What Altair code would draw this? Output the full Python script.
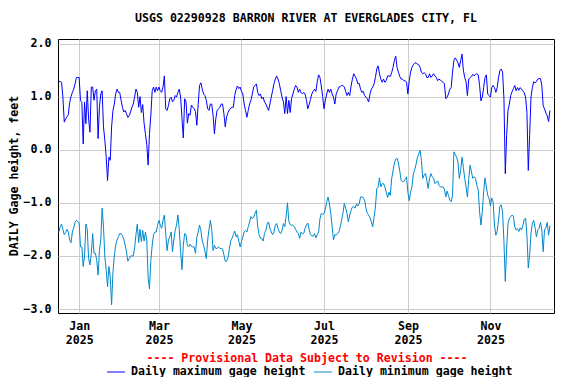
import altair as alt
import pandas as pd

# ---- data (daily values, day offsets from 2025-01-01) ----
first_day = -15
max_height = [
    1.29, 1.28, 1.27, 0.99, 0.52, 0.58, 0.62, 0.66, 0.89, 1.0, 1.08, 1.14, 1.24, 1.36, 1.36,
    1.36, 0.93, 0.89, 0.11, 0.9, 0.49, 1.11, 0.58, 0.33, 1.18, 1.18, 0.93, 1.11, 1.14, 0.21,
    0.8, 1.05, 1.11, 0.43, 0.18, -0.14, -0.58, -0.14, -0.2, 0.43, 0.74, 0.86, 1.05, 1.14, 1.08,
    1.08, 0.93, 0.8, 0.71, 0.74, 0.68, 0.61, 0.64, 0.71, 0.8, 0.86, 0.99, 1.14, 1.08, 0.8,
    1.0, 0.7, 0.85, 0.5, 0.3, 0.1, -0.29, 0.3, 0.65, 1.11, 1.18, 1.08, 1.18, 1.11, 1.18,
    1.11, 1.08, 1.18, 1.39, 0.77, 0.74, 0.83, 0.96, 0.99, 0.9, 0.93, 1.02, 0.99, 1.08, 1.14,
    0.99, 0.6, 0.22, 0.96, 0.9, 0.5, 0.68, 0.65, 0.84, 0.8, 0.77, 0.72, 0.46, 0.86, 1.21,
    1.26, 1.14, 1.05, 1.02, 0.93, 0.77, 0.74, 0.86, 0.86, 0.65, 0.3, 0.58, 0.74, 0.77, 0.8,
    0.86, 0.86, 0.68, 0.43, 0.62, 0.7, 0.75, 0.78, 0.8, 0.8, 1.02, 1.13, 1.2, 1.15, 1.18,
    1.1, 1.05, 0.86, 0.74, 0.61, 0.74, 0.86, 0.93, 1.05, 1.18, 1.21, 1.24, 1.08, 1.02, 1.05,
    0.96, 0.99, 0.9, 0.86, 0.8, 0.74, 0.86, 0.99, 1.11, 1.24, 1.33, 1.39, 1.33, 1.24, 1.11,
    0.99, 0.9, 0.68, 1.0, 0.68, 0.93, 0.7, 0.96, 1.05, 1.14, 1.21, 1.18, 1.08, 1.14, 1.08,
    1.05, 1.08, 1.05, 0.93, 0.77, 0.85, 0.95, 1.05, 1.1, 1.14, 1.1, 1.28, 1.41, 1.36, 1.2,
    1.0, 0.77, 0.93, 1.05, 1.14, 1.08, 1.14, 1.05, 0.99, 0.86, 1.05, 1.11, 1.18, 1.19, 1.21,
    1.21, 1.18, 1.1, 1.02, 1.08, 1.02, 1.2, 1.33, 1.43, 1.38, 1.33, 1.24, 1.25, 1.14, 1.08,
    1.1, 1.02, 0.99, 0.96, 0.9, 1.05, 1.14, 1.18, 1.24, 1.36, 1.52, 1.58, 1.43, 1.33, 1.27,
    1.33, 1.27, 1.3, 1.39, 1.39, 1.38, 1.45, 1.55, 1.68, 1.76, 1.55, 1.46, 1.38, 1.33, 1.33,
    1.3, 1.3, 1.27, 1.05, 1.3, 1.46, 1.55, 1.6, 1.63, 1.64, 1.61, 1.6, 1.55, 1.46, 1.43,
    1.45, 1.43, 1.36, 1.36, 1.43, 1.36, 1.39, 1.43, 1.39, 1.36, 1.30, 1.33, 1.31, 1.29, 1.27,
    1.24, 0.96, 0.99, 1.05, 1.14, 1.17, 1.46, 1.68, 1.73, 1.69, 1.64, 1.55, 1.68, 1.80, 1.5,
    1.36, 1.28, 1.02, 1.33, 1.36, 1.38, 1.42, 1.39, 1.42, 1.43, 1.41, 1.21, 0.92, 0.99, 1.17,
    1.36, 1.41, 1.05, 1.02, 0.99, 1.17, 1.21, 1.17, 1.08, 1.17, 1.36, 1.49, 1.52, 1.46, 0.96,
    -0.45, 0.27, 0.74, 0.86, 1.02, 1.09, 1.15, 1.21, 1.11, 1.17, 1.12, 1.17, 1.14, 1.11, 1.07,
    0.99, 0.7, -0.39, 0.27, 0.99, 1.17, 1.28, 1.26, 1.28, 1.33, 1.34, 1.34, 1.21, 0.83, 0.77,
    0.69, 0.64, 0.53, 0.74,
]
min_height = [
    -1.55, -1.45, -1.4, -1.5, -1.6, -1.56, -1.5, -1.55, -1.7, -1.75, -1.55, -1.47, -1.37, -1.33, -1.35,
    -1.38, -1.83, -1.83, -2.2, -2.0, -1.4, -1.5, -2.05, -2.17, -1.95, -1.58, -1.95, -1.95, -2.08, -2.36,
    -1.9, -1.7, -1.1, -1.45, -2.02, -2.27, -2.58, -2.2, -2.4, -2.92, -2.3, -2.0, -1.8, -1.7, -1.64,
    -1.58, -1.58, -1.62, -1.68, -1.8, -1.92, -2.1, -2.05, -2.0, -2.0, -2.0, -1.85, -1.6, -1.4, -1.75,
    -1.5, -1.73, -1.52, -1.72, -1.55, -1.7, -2.4, -2.62, -2.08, -1.8, -1.6, -1.55, -1.55, -1.42, -1.33,
    -1.42, -1.48, -1.33, -1.23, -1.58, -1.9, -1.7, -1.64, -1.55, -1.92, -1.7, -1.52, -1.42, -1.23, -1.5,
    -1.92, -2.26, -1.8, -1.58, -1.6, -1.8, -1.83, -1.78, -1.82, -1.83, -1.83, -1.95, -1.65, -1.55, -1.42,
    -1.52, -1.72, -1.8, -1.92, -2.05, -1.7, -1.5, -1.33, -1.5, -1.9, -1.8, -1.86, -1.86, -1.83, -1.86,
    -1.86, -1.87, -1.98, -2.1, -2.1, -2.03, -1.88, -1.72, -1.67, -1.6, -1.53, -1.64, -1.6, -1.72, -1.83,
    -1.73, -1.64, -1.55, -1.52, -1.55, -1.45, -1.36, -1.26, -1.3, -1.27, -1.2, -1.14, -1.45, -1.6, -1.67,
    -1.67, -1.72, -1.58, -1.52, -1.4, -1.36, -1.48, -1.55, -1.6, -1.55, -1.42, -1.39, -1.48, -1.55, -1.58,
    -1.52, -1.39, -1.45, -1.25, -1.0, -1.35, -1.41, -1.42, -1.42, -1.45, -1.5, -1.55, -1.58, -1.67, -1.55,
    -1.58, -1.58, -1.48, -1.42, -1.38, -1.5, -1.6, -1.62, -1.63, -1.58, -1.66, -1.6, -1.55, -1.3, -1.2,
    -1.22, -1.2, -1.12, -0.98, -0.89, -1.02, -1.2, -1.45, -1.7, -1.6, -1.61, -1.58, -1.55, -1.45, -1.33,
    -1.2, -1.01, -1.1, -1.2, -1.36, -1.23, -1.14, -1.08, -1.07, -1.1, -1.02, -1.06, -1.02, -0.89, -0.89,
    -0.9, -0.95, -1.1, -1.2, -1.23, -1.28, -1.36, -1.45, -1.27, -1.08, -0.73, -0.7, -0.53, -0.7, -0.64,
    -0.64, -0.7, -0.8, -0.9, -0.8, -0.86, -0.55, -0.4, -0.25, -0.18, -0.16, -0.25, -0.4, -0.58, -0.6,
    -0.6, -0.56, -0.51, -0.8, -0.96, -0.8, -0.7, -0.46, -0.38, -0.28, -0.15, -0.08, -0.01, -0.2, -0.54,
    -0.48, -0.45, -0.58, -0.73, -0.54, -0.45, -0.51, -0.54, -0.64, -0.61, -0.59, -0.67, -0.7, -0.7, -0.7,
    -0.74, -0.89, -0.78, -0.86, -0.95, -0.98, -0.86, -0.04, -0.09, -0.14, -0.23, -0.54, -0.39, -0.14, -0.33,
    -0.54, -0.7, -0.89, -0.54, -0.29, -0.42, -0.54, -0.51, -0.54, -0.67, -0.76, -1.17, -1.42, -1.17, -0.79,
    -0.53, -0.7, -0.86, -0.92, -1.06, -0.91, -0.98, -1.42, -1.61, -1.54, -1.33, -1.06, -1.04, -1.17, -1.73,
    -2.48, -1.86, -1.39, -1.29, -1.26, -1.23, -1.26, -1.45, -1.51, -1.49, -1.54, -1.47, -1.51, -1.43, -1.31,
    -1.29, -1.61, -2.23, -1.98, -1.58, -1.39, -1.33, -1.47, -1.64, -1.51, -1.48, -1.37, -1.51, -1.92, -1.51,
    -1.47, -1.37, -1.61, -1.43,
]
series_names = ["Daily maximum gage height", "Daily minimum gage height"]
series_colors = ["#0000ff", "#0088cc"]
y_ticks = [-3, -2, -1, 0, 1, 2]
x_tick_months = [1, 3, 5, 7, 9, 11]
title_text = "USGS 02290928 BARRON RIVER AT EVERGLADES CITY, FL"
y_title = "DAILY Gage height, feet"
provisional_text = "---- Provisional Data Subject to Revision ----"

# ---- build table ----
base = pd.Timestamp("2025-01-01")
n = len(max_height)
dates = [(base + pd.Timedelta(days=first_day + i)).strftime("%Y-%m-%d") for i in range(n)]
df = pd.DataFrame({
    "date": dates + dates[: len(min_height)],
    "value": max_height + min_height,
    "series": [series_names[0]] * n + [series_names[1]] * len(min_height),
})

FONT = "DejaVu Sans Mono"
FS = 11.6
W, H = 496, 274

x_scale = alt.Scale(
    type="utc",
    domain=[alt.DateTime(year=2024, month=12, date=16, hours=9, utc=True),
            alt.DateTime(year=2025, month=12, date=18, utc=True)],
)
y_scale = alt.Scale(domain=[-3.075, 2.085], nice=False, zero=False)

lines = alt.Chart(df).mark_line(strokeWidth=1, clip=True).encode(
    x=alt.X("date:T", scale=x_scale, axis=alt.Axis(
        values=[alt.DateTime(year=2025, month=m, date=1, utc=True) for m in x_tick_months],
        labelExpr="[utcFormat(datum.value, '%b'), utcFormat(datum.value, '%Y')]",
        grid=True, gridColor="#cccccc", gridWidth=1, ticks=False, domain=False,
        labelFont=FONT, labelFontSize=FS, labelFontWeight="bold", labelColor="black",
        labelPadding=7, labelLineHeight=14, labelAngle=0, labelAlign="center", title=None,
    )),
    y=alt.Y("value:Q", scale=y_scale, axis=alt.Axis(
        values=y_ticks, format=".1f",
        grid=True, gridColor="#cccccc", gridWidth=1, ticks=False, domain=False,
        labelFont=FONT, labelFontSize=FS, labelFontWeight="bold", labelColor="black",
        labelPadding=7, title=None,
    )),
    color=alt.Color("series:N", scale=alt.Scale(domain=series_names, range=series_colors), legend=None),
)

def text_layer(txt, x, y, color="black", align="center", angle=0):
    kw = dict(font=FONT, fontSize=FS, fontWeight="bold", color=color, align=align, baseline="middle")
    if angle:
        kw["angle"] = angle
    return alt.Chart(pd.DataFrame({"t": [txt]})).mark_text(**kw).encode(
        x=alt.value(x), y=alt.value(y), text="t:N")

title = text_layer(title_text, 248, -20)
ytitle = text_layer(y_title, -43, 137, angle=270)
prov = text_layer(provisional_text, 249, 320, color="#ff0000")

LEG_Y = 333
leg_df = pd.DataFrame({"series": series_names, "x1": [49, 256], "x2": [67, 274], "tx": [73, 280]})
leg_rules = alt.Chart(leg_df).mark_rule(strokeWidth=1).encode(
    x=alt.X("x1:Q", scale=None), x2="x2:Q", y=alt.value(LEG_Y),
    color=alt.Color("series:N", scale=alt.Scale(domain=series_names, range=series_colors), legend=None),
)
leg_text = alt.Chart(leg_df).mark_text(
    font=FONT, fontSize=FS, fontWeight="bold", color="black", align="left", baseline="middle"
).encode(x=alt.X("tx:Q", scale=None), y=alt.value(LEG_Y), text="series:N")

chart = alt.layer(lines, title, ytitle, prov, leg_rules, leg_text).properties(
    width=W, height=H,
    autosize=alt.AutoSizeParams(type="none"),
    padding={"left": 50, "top": 31, "right": 6, "bottom": 64},
    background="white",
).configure_view(stroke="black", strokeWidth=1)

chart.save("out.html", embed_options={"renderer": "svg", "actions": False})
